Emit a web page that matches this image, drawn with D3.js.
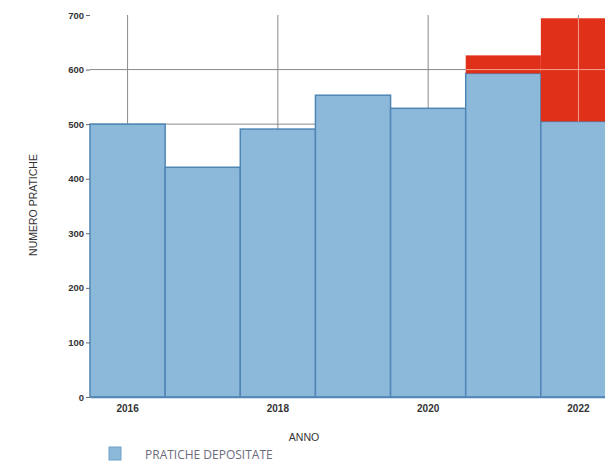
<!DOCTYPE html>
<html>
<head>
<meta charset="utf-8">
<script src="https://cdn.jsdelivr.net/npm/d3@7"></script>
<style>
  body { margin: 0; background: #fff; }
  text { font-family: "Liberation Sans", Arial, sans-serif; }
</style>
</head>
<body>
<div id="chart"></div>
<script>
// data
const years = [2016, 2017, 2018, 2019, 2020, 2021, 2022];
const deposited = [500, 421, 491, 553, 529, 593, 505];
const extra = [0, 0, 0, 0, 0, 33, 189];
const yTicks = [0, 100, 200, 300, 400, 500, 600, 700];
const xTickYears = [2016, 2018, 2020, 2022];

const width = 605;
const height = 466;
const margin = { top: 15, left: 90, bottom: 69 };
const plotRight = 616; // last bar runs past the window edge

const svg = d3.select('#chart')
  .append('svg')
  .attr('width', width)
  .attr('height', height);

const x = d3.scaleBand()
  .domain(years)
  .range([margin.left, plotRight])
  .padding(0);

const y = d3.scaleLinear()
  .domain([0, 700])
  .range([height - margin.bottom, margin.top]);

// grid lines (behind bars)
svg.append('g')
  .selectAll('line')
  .data(yTicks.filter(d => d > 0 && d < 700))
  .enter()
  .append('line')
  .attr('x1', margin.left)
  .attr('x2', width)
  .attr('y1', d => y(d))
  .attr('y2', d => y(d))
  .attr('stroke', '#8a8a8a')
  .attr('stroke-width', 1);

svg.append('g')
  .selectAll('line')
  .data(xTickYears)
  .enter()
  .append('line')
  .attr('x1', d => x(d) + x.bandwidth() / 2)
  .attr('x2', d => x(d) + x.bandwidth() / 2)
  .attr('y1', y(700))
  .attr('y2', y(0))
  .attr('stroke', '#8a8a8a')
  .attr('stroke-width', 1);

// blue bars
svg.append('g')
  .selectAll('rect')
  .data(years)
  .enter()
  .append('rect')
  .attr('x', d => x(d))
  .attr('y', (d, i) => y(deposited[i]))
  .attr('width', x.bandwidth())
  .attr('height', (d, i) => y(0) - y(deposited[i]))
  .attr('fill', '#8cb8da')
  .attr('stroke', '#4f86b5')
  .attr('stroke-width', 1.5);

// red stacked part
svg.append('g')
  .selectAll('rect')
  .data(years.filter((d, i) => extra[i] > 0))
  .enter()
  .append('rect')
  .attr('x', d => x(d))
  .attr('y', d => { const i = years.indexOf(d); return y(deposited[i] + extra[i]); })
  .attr('width', x.bandwidth())
  .attr('height', d => { const i = years.indexOf(d); return y(deposited[i]) - y(deposited[i] + extra[i]); })
  .attr('fill', '#e0301a');

// faint grid over the red part
const redTops = years.map((d, i) => deposited[i] + extra[i]);
svg.append('g')
  .selectAll('line')
  .data(xTickYears.filter(d => extra[years.indexOf(d)] > 0))
  .enter()
  .append('line')
  .attr('x1', d => x(d) + x.bandwidth() / 2)
  .attr('x2', d => x(d) + x.bandwidth() / 2)
  .attr('y1', d => y(redTops[years.indexOf(d)]))
  .attr('y2', d => y(deposited[years.indexOf(d)]))
  .attr('stroke', '#f4a08e')
  .attr('stroke-width', 1);

svg.append('line')
  .attr('x1', x(2021))
  .attr('x2', width)
  .attr('y1', y(600))
  .attr('y2', y(600))
  .attr('stroke', '#f4a08e')
  .attr('stroke-width', 1);

// y axis
const yAxis = svg.append('g')
  .attr('transform', `translate(${margin.left}, 0)`)
  .call(d3.axisLeft(y).tickValues(yTicks).tickSize(4).tickPadding(2));
yAxis.select('.domain').remove();
yAxis.selectAll('line').attr('stroke', '#666');
yAxis.selectAll('text')
  .attr('fill', '#333')
  .style('font-size', '9.5px')
  .style('font-weight', 'bold');

// x axis
const xAxis = svg.append('g')
  .attr('transform', `translate(0, ${y(0)})`)
  .call(d3.axisBottom(x).tickValues(xTickYears).tickSize(0).tickPadding(8));
xAxis.select('.domain')
  .attr('stroke', '#4f86b5')
  .attr('stroke-width', 1.5);
xAxis.selectAll('text')
  .attr('fill', '#333')
  .style('font-size', '10px')
  .style('font-weight', 'bold');

// axis titles
svg.append('text')
  .attr('x', 304)
  .attr('y', 441)
  .attr('text-anchor', 'middle')
  .attr('fill', '#333')
  .style('font-size', '10.5px')
  .text('ANNO');

svg.append('text')
  .attr('transform', 'rotate(-90)')
  .attr('x', -205)
  .attr('y', 37)
  .attr('text-anchor', 'middle')
  .attr('fill', '#333')
  .style('font-size', '10.5px')
  .text('NUMERO PRATICHE');

// legend
svg.append('rect')
  .attr('x', 109)
  .attr('y', 447)
  .attr('width', 12)
  .attr('height', 13)
  .attr('fill', '#8cb8da')
  .attr('stroke', '#6f9fc8');

svg.append('text')
  .attr('x', 145)
  .attr('y', 459)
  .attr('fill', '#6b6b7b')
  .style('font-family', '"Open Sans", sans-serif')
  .style('font-size', '12px')
  .text('PRATICHE DEPOSITATE');
</script>
</body>
</html>
